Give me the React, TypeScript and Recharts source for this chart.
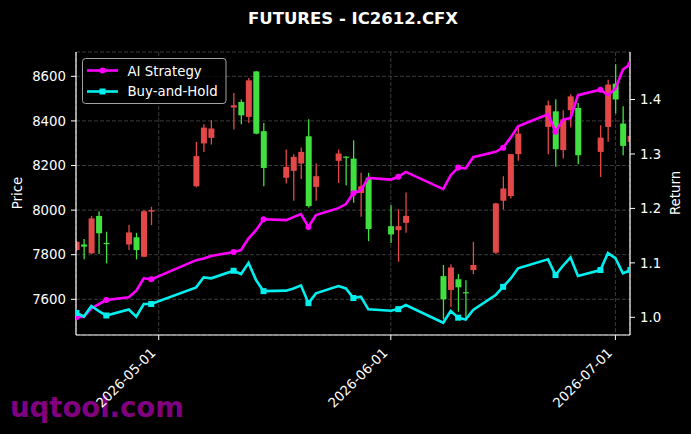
import React from 'react'
import { ComposedChart, Bar, Line, XAxis, YAxis, CartesianGrid } from 'recharts'

// trading days shown on the chart
const dates = [
  '2026-04-20', '2026-04-21', '2026-04-22', '2026-04-23', '2026-04-24',
  '2026-04-27', '2026-04-28', '2026-04-29', '2026-04-30',
  '2026-05-06', '2026-05-07', '2026-05-08',
  '2026-05-11', '2026-05-12', '2026-05-13', '2026-05-14', '2026-05-15',
  '2026-05-18', '2026-05-19', '2026-05-20', '2026-05-21', '2026-05-22',
  '2026-05-25', '2026-05-26', '2026-05-27', '2026-05-28', '2026-05-29',
  '2026-06-01', '2026-06-02', '2026-06-03',
  '2026-06-08', '2026-06-09', '2026-06-10', '2026-06-11', '2026-06-12',
  '2026-06-15', '2026-06-16', '2026-06-17', '2026-06-18',
  '2026-06-22', '2026-06-23', '2026-06-24', '2026-06-25', '2026-06-26',
  '2026-06-29', '2026-06-30', '2026-07-01', '2026-07-02', '2026-07-03',
]

const opens = [
  7821, 7846, 7806, 7974, 7853, 7846, 7878, 7791, 7993,
  8107, 8299, 8324, 8460, 8485, 8418, 8622, 8354,
  8145, 8176, 8209, 8331, 8104, 8221, 8240, 8231, 8077, 8145,
  7928, 7910, 7943, 7704, 7642, 7690, 7632, 7731,
  7809, 8042, 8063, 8251, 8373, 8443, 8269, 8448, 8458,
  8261, 8373, 8567, 8388, 8306,
]
const highs = [
  7862, 7870, 7974, 7995, 7903, 7933, 7898, 8000, 8015,
  8306, 8385, 8403, 8525, 8496, 8592, 8624, 8391,
  8272, 8251, 8281, 8407, 8209, 8272, 8242, 8313, 8167, 8167,
  8022, 8004, 8079, 7754, 7757, 7713, 7686, 7858,
  8033, 8152, 8252, 8370, 8492, 8497, 8448, 8519, 8480,
  8380, 8585, 8654, 8466, 8345,
]
const lows = [
  7815, 7780, 7803, 7803, 7761, 7821, 7779, 7789, 7933,
  8102, 8261, 8294, 8361, 8385, 8391, 8340, 8107,
  8119, 8042, 8139, 8012, 8042, 8122, 8110, 8033, 7970, 7861,
  7853, 7768, 7898, 7510, 7566, 7544, 7510, 7713,
  7803, 8003, 8052, 8221, 8251, 8194, 8231, 8370, 8206,
  8149, 8306, 8433, 8246, 8295,
]
const closes = [
  7858, 7836, 7963, 7896, 7849, 7900, 7821, 7995, 8000,
  8242, 8370, 8366, 8470, 8425, 8582, 8343, 8189,
  8194, 8239, 8261, 8018, 8152, 8254, 8236, 8082, 8107, 7915,
  7891, 7928, 7974, 7600, 7743, 7654, 7628, 7754,
  8030, 8097, 8251, 8343, 8470, 8273, 8406, 8510, 8246,
  8325, 8563, 8496, 8288, 8333,
]

const aiStrategy = [
  1.0, 1.001, 1.0165, 1.0244, 1.0317, 1.0367, 1.0488, 1.0716, 1.0697,
  1.105, 1.108, 1.1125, 1.12, 1.1235, 1.145, 1.16, 1.18,
  1.1785, 1.184, 1.1895, 1.166, 1.1877, 1.2005, 1.208, 1.228, 1.2336, 1.256,
  1.253, 1.258, 1.267, 1.2355, 1.261, 1.275, 1.2734, 1.294,
  1.304, 1.3115, 1.33, 1.351, 1.373, 1.3406, 1.363, 1.366, 1.408,
  1.418, 1.408, 1.42, 1.455, 1.465,
]
const buyHold = [
  1.008, 1.0015, 1.0207, 1.0115, 1.0033, 1.0143, 1.001, 1.0244, 1.0244,
  1.055, 1.0734, 1.0716, 1.0855, 1.0795, 1.1, 1.0684, 1.048,
  1.049, 1.053, 1.0587, 1.026, 1.044, 1.0574, 1.053, 1.0354, 1.038, 1.0147,
  1.012, 1.015, 1.0226, 0.99, 1.0116, 0.9993, 0.996, 1.0134,
  1.041, 1.056, 1.071, 1.09, 1.1064, 1.0776, 1.0947, 1.11, 1.0758,
  1.0868, 1.118, 1.1088, 1.0807, 1.0868,
]

const dateTicks = ['2026-05-01', '2026-06-01', '2026-07-01']
const priceTicks = [7600, 7800, 8000, 8200, 8400, 8600]
const returnTicks = [1.0, 1.1, 1.2, 1.3, 1.4]

const RED = '#e24848'
const GREEN = '#40e040'
const MAGENTA = '#ff00ff'
const CYAN = '#00f0f0'
const FONT = 'DejaVu Sans'

const DAY = 86400000
const START = Date.parse(dates[0] + 'T00:00:00Z')
const toDay = (s: string) => (Date.parse(s + 'T00:00:00Z') - START) / DAY
const fromDay = (d: number) => new Date(START + d * DAY).toISOString().slice(0, 10)

const rows = dates.map((d, i) => ({
  t: toDay(d),
  o: opens[i],
  h: highs[i],
  l: lows[i],
  c: closes[i],
  ai: aiStrategy[i],
  bh: buyHold[i],
}))

// candle drawn from the bar's [low, high] rectangle, open/close placed on the same scale
const Candle = (props: any) => {
  const { x, y, width, height, payload } = props
  if (!payload || height == null) return <g />
  const { o, h, l, c } = payload
  const top = Math.min(y, y + height)
  const span = Math.abs(height)
  const k = span / (h - l)
  const yOf = (v: number) => top + (h - v) * k
  const color = c >= o ? RED : GREEN
  const cx = x + width / 2
  const bTop = yOf(Math.max(o, c))
  const bBot = yOf(Math.min(o, c))
  return (
    <g>
      <line x1={cx} x2={cx} y1={top} y2={top + span} stroke={color} strokeWidth={1.3} />
      <rect x={cx - 3} y={bTop} width={6} height={Math.max(bBot - bTop, 1.2)} fill={color} />
    </g>
  )
}

const DateTick = (props: any) => {
  const { x, y, payload } = props
  return (
    <g transform={`translate(${x - 2.3},${y + 8.8}) rotate(-45)`}>
      <text x={0} y={0} textAnchor="end" fill="#fff" fontSize={13.3} fontFamily={FONT}>
        {fromDay(payload.value)}
      </text>
    </g>
  )
}

const circleDot = (p: any) =>
  p.index % 4 === 0 ? (
    <circle key={`a${p.index}`} cx={p.cx} cy={p.cy} r={3} fill={MAGENTA} />
  ) : (
    <g key={`a${p.index}`} />
  )

const squareDot = (p: any) =>
  p.index % 4 === 0 ? (
    <rect key={`b${p.index}`} x={p.cx - 3} y={p.cy - 3} width={6} height={6} fill={CYAN} />
  ) : (
    <g key={`b${p.index}`} />
  )

const tickStyle = { fill: '#fff', fontSize: 13.3, fontFamily: FONT }

export default function App() {
  return (
    <div style={{ position: 'absolute', left: 0, top: 0, width: 691, height: 434, background: '#000' }}>
      {/* watermark sits under the chart so the date labels draw over it */}
      <svg width={691} height={434} style={{ position: 'absolute', left: 0, top: 0 }} fontFamily={FONT}>
        <text x={10} y={417} fill="#800080" fontSize={27.5} fontWeight="bold">uqtool.com</text>
      </svg>
      <div style={{ position: 'absolute', left: 0, top: 0 }}>
        <ComposedChart
          width={691}
          height={434}
          data={rows}
          margin={{ top: 52, right: 0, bottom: 0, left: 0 }}
        >
          <CartesianGrid xAxisId="date" yAxisId="price" stroke="#555" strokeWidth={0.7} strokeDasharray="4 2" />
          <XAxis
            xAxisId="date"
            dataKey="t"
            type="number"
            domain={[-0.05, 73.95]}
            ticks={dateTicks.map(toDay)}
            allowDataOverflow
            height={99}
            tick={<DateTick />}
            tickSize={5}
            tickMargin={5}
            tickLine={{ stroke: '#fff' }}
            axisLine={{ stroke: '#fff', strokeWidth: 1.2 }}
          />
          <XAxis
            xAxisId="top"
            orientation="top"
            type="number"
            domain={[0, 1]}
            height={0}
            tick={false}
            tickLine={false}
            axisLine={{ stroke: '#fff', strokeWidth: 1.2 }}
          />
          <YAxis
            yAxisId="price"
            orientation="left"
            width={76}
            domain={[7440, 8709]}
            ticks={priceTicks}
            allowDataOverflow
            tick={tickStyle}
            tickSize={5}
            tickMargin={5}
            tickLine={{ stroke: '#fff' }}
            axisLine={{ stroke: '#fff', strokeWidth: 1.2 }}
          />
          <YAxis
            yAxisId="ret"
            orientation="right"
            width={61}
            domain={[0.9675, 1.4873]}
            ticks={returnTicks}
            allowDataOverflow
            tickFormatter={(v: number) => v.toFixed(1)}
            tick={tickStyle}
            tickSize={5}
            tickMargin={5}
            tickLine={{ stroke: '#fff' }}
            axisLine={{ stroke: '#fff', strokeWidth: 1.2 }}
          />
          <Bar
            xAxisId="date"
            yAxisId="price"
            dataKey={(d: any) => [d.l, d.h]}
            barSize={6}
            shape={<Candle />}
            isAnimationActive={false}
          />
          <Line
            xAxisId="date"
            yAxisId="ret"
            type="linear"
            dataKey="ai"
            stroke={MAGENTA}
            strokeWidth={2.6}
            dot={circleDot}
            activeDot={false}
            isAnimationActive={false}
          />
          <Line
            xAxisId="date"
            yAxisId="ret"
            type="linear"
            dataKey="bh"
            stroke={CYAN}
            strokeWidth={2.6}
            dot={squareDot}
            activeDot={false}
            isAnimationActive={false}
          />
        </ComposedChart>
      </div>
      <svg
        width={691}
        height={434}
        style={{ position: 'absolute', left: 0, top: 0, pointerEvents: 'none' }}
        fontFamily={FONT}
      >
        <text x={353} y={24} textAnchor="middle" fill="#fff" fontSize={16.5} fontWeight="bold">
          FUTURES - IC2612.CFX
        </text>
        <text transform="translate(22,193) rotate(-90)" textAnchor="middle" fill="#fff" fontSize={13.3}>
          Price
        </text>
        <text transform="translate(680,193) rotate(-90)" textAnchor="middle" fill="#fff" fontSize={13.3}>
          Return
        </text>
        <rect x={82.5} y={58.5} width={143.5} height={45} rx={3} fill="#000" fillOpacity={0.8} stroke="#ccc" strokeOpacity={0.8} />
        <line x1={87} x2={118} y1={70.5} y2={70.5} stroke={MAGENTA} strokeWidth={2.6} />
        <circle cx={102.5} cy={70.5} r={3} fill={MAGENTA} />
        <text x={127.5} y={75.5} fill="#fff" fontSize={13.3}>AI Strategy</text>
        <line x1={87} x2={118} y1={91.5} y2={91.5} stroke={CYAN} strokeWidth={2.6} />
        <rect x={99.5} y={88.5} width={6} height={6} fill={CYAN} />
        <text x={127.5} y={96.3} fill="#fff" fontSize={13.3}>Buy-and-Hold</text>
      </svg>
    </div>
  )
}
